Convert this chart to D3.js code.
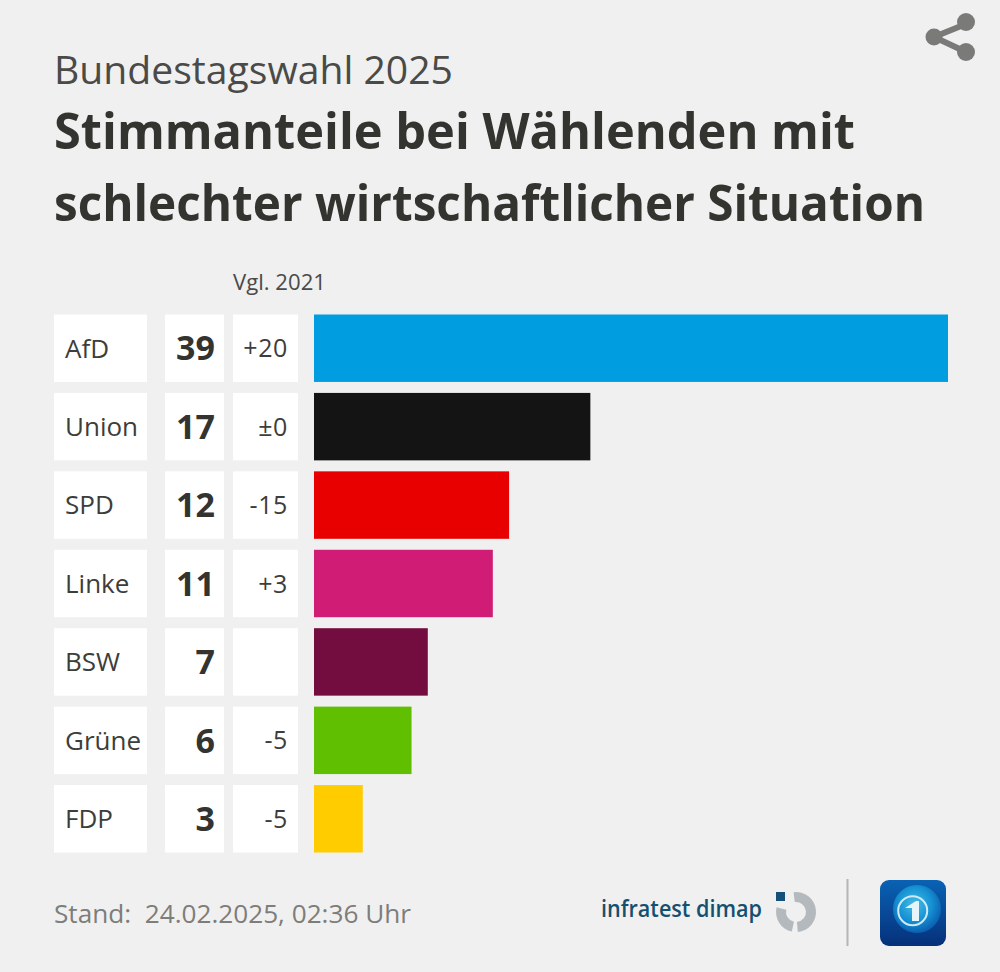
<!DOCTYPE html>
<html>
<head>
<meta charset="utf-8">
<script src="https://cdn.jsdelivr.net/npm/d3@7"></script>
<style>
  html, body { margin: 0; padding: 0; background: #f0f0f0; }
  svg { display: block; }
  text { font-family: "Open Sans", "Noto Sans", sans-serif; fill: #333330; }
</style>
</head>
<body>
<div id="chart"></div>
<script>
var parties = ['AfD', 'Union', 'SPD', 'Linke', 'BSW', 'Grüne', 'FDP'];
var shares = [39, 17, 12, 11, 7, 6, 3];
var changes = ['+20', '±0', '-15', '+3', '', '-5', '-5'];
var colors = ['#009ee0', '#141414', '#e80000', '#d01c74', '#730d3f', '#60bf00', '#ffcc00'];

var width = 1000,
    height = 972;

var svg = d3.select('#chart').append('svg')
    .attr('width', width)
    .attr('height', height);

// rows and bar length
var y = d3.scaleBand()
    .domain(parties)
    .range([314.5, 852.5])
    .paddingInner(0.14)
    .paddingOuter(0);

var x = d3.scaleLinear()
    .domain([0, 39])
    .range([314, 948]);

// text helper, the widths are squeezed to the original font's widths
function label(tx, ty, size, str, len, fill) {
    var t = svg.append('text')
        .attr('x', tx).attr('y', ty)
        .attr('font-size', size)
        .attr('textLength', len)
        .attr('lengthAdjust', 'spacingAndGlyphs')
        .text(str);
    if (fill) t.style('fill', fill);
    return t;
}

// header
label(54, 84, 37.5, 'Bundestagswahl 2025', 399, '#4a4a48');
label(54, 149, 49.5, 'Stimmanteile bei Wählenden mit', 801).attr('font-weight', 700);
label(54, 221, 49.5, 'schlechter wirtschaftlicher Situation', 871).attr('font-weight', 700);
label(233, 290, 21, 'Vgl. 2021', 93, '#4a4a48');

// table cells
var cells = [
    { x: 54, w: 93 },
    { x: 165, w: 59 },
    { x: 233, w: 65 }
];

cells.forEach(function(c) {
    svg.append('g').selectAll('rect')
        .data(parties)
        .enter().append('rect')
        .attr('x', c.x)
        .attr('y', function(d) { return y(d); })
        .attr('width', c.w)
        .attr('height', y.bandwidth())
        .attr('fill', '#fff');
});

function rowMiddle(d) { return y(d) + y.bandwidth() / 2; }

svg.append('g').selectAll('text')
    .data(parties)
    .enter().append('text')
    .attr('x', 65)
    .attr('y', rowMiddle)
    .attr('dy', '0.36em')
    .attr('font-size', 26)
    .style('fill', '#3d3d3a')
    .text(function(d) { return d; });

svg.append('g').selectAll('text')
    .data(shares)
    .enter().append('text')
    .attr('x', 215)
    .attr('y', function(d, i) { return rowMiddle(parties[i]); })
    .attr('dy', '0.36em')
    .attr('text-anchor', 'end')
    .attr('font-size', 34)
    .attr('font-weight', 700)
    .text(function(d) { return d; });

svg.append('g').selectAll('text')
    .data(changes)
    .enter().append('text')
    .attr('x', 288)
    .attr('y', function(d, i) { return rowMiddle(parties[i]); })
    .attr('dy', '0.36em')
    .attr('text-anchor', 'end')
    .attr('font-size', 25)
    .attr('letter-spacing', 0.6)
    .style('fill', '#3d3d3a')
    .text(function(d) { return d; });

// bars
svg.append('g').selectAll('rect')
    .data(shares)
    .enter().append('rect')
    .attr('x', x(0))
    .attr('y', function(d, i) { return y(parties[i]); })
    .attr('width', function(d) { return x(d) - x(0); })
    .attr('height', y.bandwidth())
    .attr('fill', function(d, i) { return colors[i]; });

// share icon
var share = svg.append('g').attr('fill', '#7a7a78');
share.append('path')
    .attr('d', 'M966 24L934 37L966 52')
    .attr('fill', 'none')
    .attr('stroke', '#7a7a78')
    .attr('stroke-width', 6);
share.append('circle').attr('cx', 966).attr('cy', 22).attr('r', 9);
share.append('circle').attr('cx', 934).attr('cy', 37).attr('r', 8.5);
share.append('circle').attr('cx', 966).attr('cy', 52).attr('r', 9);

// footer
label(54, 923, 25, 'Stand:  24.02.2025, 02:36 Uhr', 357, '#7d7d7b').attr('xml:space', 'preserve');
label(601, 917, 24, 'infratest dimap', 161, '#14506f').attr('font-weight', 600);

// infratest mark
svg.append('rect')
    .attr('x', 776).attr('y', 892)
    .attr('width', 9).attr('height', 9)
    .attr('fill', '#14507a');

var ring = d3.arc()
    .innerRadius(10)
    .outerRadius(20);

svg.append('path')
    .attr('transform', 'translate(796,912)')
    .attr('d', ring({ startAngle: -0.12, endAngle: 3.05 }))
    .attr('fill', '#b3b9bd');
svg.append('path')
    .attr('transform', 'translate(796,912)')
    .attr('d', ring({ startAngle: 3.35, endAngle: 4.95 }))
    .attr('fill', '#b3b9bd');

svg.append('line')
    .attr('x1', 847.5).attr('x2', 847.5)
    .attr('y1', 879).attr('y2', 946)
    .attr('stroke', '#b5b5b5')
    .attr('stroke-width', 2);

// tagesschau logo
var defs = svg.append('defs');
var grad = defs.append('linearGradient')
    .attr('id', 'logoBg')
    .attr('x1', 0).attr('y1', 0).attr('x2', 0).attr('y2', 1);
grad.append('stop').attr('offset', '0%').attr('stop-color', '#0a62b4');
grad.append('stop').attr('offset', '100%').attr('stop-color', '#06307a');

var globe = defs.append('radialGradient')
    .attr('id', 'logoGlobe')
    .attr('cx', '45%').attr('cy', '40%').attr('r', '60%');
globe.append('stop').attr('offset', '0%').attr('stop-color', '#46bde6');
globe.append('stop').attr('offset', '60%').attr('stop-color', '#1590d2');
globe.append('stop').attr('offset', '100%').attr('stop-color', '#0b5fb0');

svg.append('rect')
    .attr('x', 880).attr('y', 880)
    .attr('width', 66).attr('height', 66)
    .attr('rx', 9)
    .attr('fill', 'url(#logoBg)');
svg.append('circle')
    .attr('cx', 917).attr('cy', 909)
    .attr('r', 24)
    .attr('fill', 'url(#logoGlobe)');
svg.append('circle')
    .attr('cx', 912.7).attr('cy', 910.7)
    .attr('r', 14.5)
    .attr('fill', 'none')
    .attr('stroke', '#cfeaf7')
    .attr('stroke-width', 2);
svg.append('path')
    .attr('d', 'M905 908L916 901L919 901L919 921L912 921L912 908Z')
    .attr('fill', '#e6f4fb');
</script>
</body>
</html>
